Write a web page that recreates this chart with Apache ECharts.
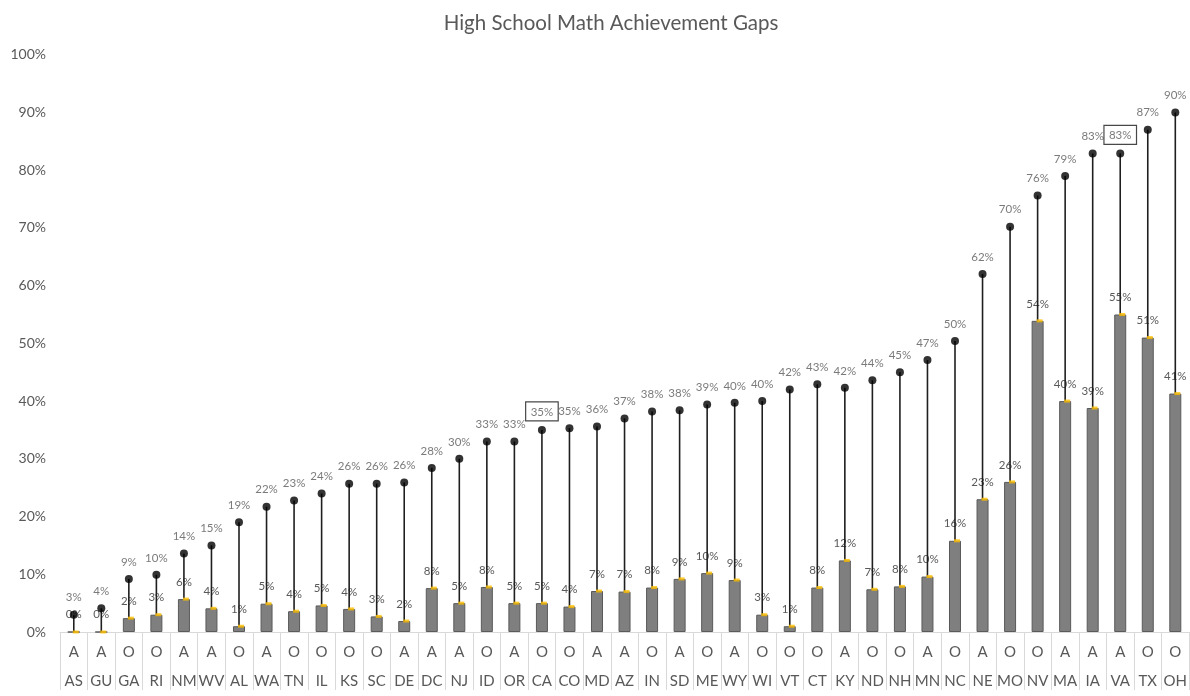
<!DOCTYPE html>
<html>
<head>
<meta charset="utf-8">
<title>High School Math Achievement Gaps</title>
<script src="https://cdn.jsdelivr.net/npm/echarts@6/dist/echarts.min.js"></script>
<style>
  html, body { margin: 0; padding: 0; background: #ffffff; }
  #chart { width: 1190px; height: 696px; }
</style>
</head>
<body>
<div id="chart"></div>
<script>
// State / territory codes along the x axis
const states = ['AS','GU','GA','RI','NM','WV','AL','WA','TN','IL','KS','SC','DE','DC','NJ','ID','OR','CA','CO','MD','AZ','IN','SD','ME','WY','WI','VT','CT','KY','ND','NH','MN','NC','NE','MO','NV','MA','IA','VA','TX','OH'];
// Group letter shown above each code
const groups = ['A','A','O','O','A','A','O','A','O','O','O','O','A','A','A','O','A','O','O','A','A','O','A','O','A','O','O','O','A','O','O','A','O','A','O','O','A','A','A','O','O'];
// Lower value (bar), in percent
const lowValues = [0,0,2.4,3.0,5.7,4.1,1.0,4.9,3.6,4.6,4.0,2.7,1.9,7.6,5.0,7.8,5.0,5.0,4.4,7.1,7.0,7.7,9.2,10.2,9.0,3.0,1.0,7.7,12.4,7.4,7.9,9.6,15.8,23.0,26.0,53.9,40.0,38.8,55.0,51.0,41.3];
// Upper value (dot), in percent
const highValues = [3.0,4.1,9.2,9.9,13.6,15.0,19.0,21.7,22.8,24.0,25.7,25.7,25.9,28.4,30.0,33.0,33.0,35.0,35.3,35.6,37.0,38.2,38.4,39.4,39.7,40.0,42.0,42.9,42.3,43.6,45.0,47.1,50.4,62.0,70.2,75.6,79.0,82.9,82.9,87.0,90.0];
// Y axis range and step, in percent
const yMin = 0, yMax = 100, yStep = 10;
// Codes whose upper value label is drawn in a box
const boxedHigh = ['CA','VA'];

const FONT = 'Lato';
const TEXT = '#595959';
const pct = v => Math.round(v) + '%';

const chart = echarts.init(document.getElementById('chart'));

const dotData = highValues.map((v, i) => {
  const item = { value: v };
  if (boxedHigh.includes(states[i])) {
    item.label = {
      borderColor: '#1a1a1a', borderWidth: 1.2,
      padding: [4, 5, 3, 5], distance: 5
    };
  }
  return item;
});

chart.setOption({
  animation: false,
  textStyle: { fontFamily: FONT },
  title: {
    text: 'High School Math Achievement Gaps',
    left: 606, top: 8, textAlign: 'center',
    textStyle: { fontFamily: FONT, fontSize: 20.5, fontWeight: 'normal', color: TEXT }
  },
  grid: { left: 60, right: -2, top: 54.7, bottom: 57.3, containLabel: false },
  xAxis: {
    type: 'category',
    data: states,
    boundaryGap: true,
    axisLine: { show: true, lineStyle: { color: '#d9d9d9', width: 1 } },
    axisTick: { show: true, length: 58, interval: 0, lineStyle: { color: '#d9d9d9' } },
    axisLabel: {
      interval: 0, margin: 6, color: TEXT, fontFamily: FONT, fontSize: 15,
      lineHeight: 29,
      formatter: (v, i) => groups[i] + '\n' + v
    },
    splitLine: { show: false }
  },
  yAxis: {
    type: 'value',
    min: yMin, max: yMax, interval: yStep,
    axisLine: { show: false },
    axisTick: { show: false },
    splitLine: { show: false },
    axisLabel: { color: TEXT, fontFamily: FONT, fontSize: 14, margin: 14, formatter: '{value}%' }
  },
  series: [
    {
      name: 'low-bar',
      type: 'bar',
      data: lowValues,
      barWidth: 12,
      z: 2,
      itemStyle: { color: '#7f7f7f', borderColor: '#5a5a5a', borderWidth: 1 },
      label: {
        show: true, position: 'top', distance: 11,
        color: TEXT, fontFamily: FONT, fontSize: 11.5,
        formatter: p => pct(p.value)
      }
    },
    {
      name: 'range-line',
      type: 'custom',
      z: 3,
      data: states.map((s, i) => [i, lowValues[i], highValues[i]]),
      renderItem: (params, api) => {
        const lo = api.coord([api.value(0), api.value(1)]);
        const hi = api.coord([api.value(0), api.value(2)]);
        return {
          type: 'line',
          shape: { x1: lo[0], y1: lo[1], x2: hi[0], y2: hi[1] },
          style: { stroke: '#1f1f1f', lineWidth: 1.6 }
        };
      }
    },
    {
      name: 'low-marker',
      type: 'scatter',
      data: lowValues,
      z: 4,
      symbol: 'rect',
      symbolSize: [6, 3],
      symbolOffset: [2, 0],
      itemStyle: { color: '#ffc000' },
      silent: true
    },
    {
      name: 'high-dot',
      type: 'scatter',
      data: dotData,
      z: 5,
      symbol: 'circle',
      symbolSize: 8,
      itemStyle: { color: '#000000' },
      label: {
        show: true, position: 'top', distance: 7,
        color: TEXT, fontFamily: FONT, fontSize: 11.5,
        formatter: p => pct(p.value)
      }
    }
  ]
});
</script>
</body>
</html>
